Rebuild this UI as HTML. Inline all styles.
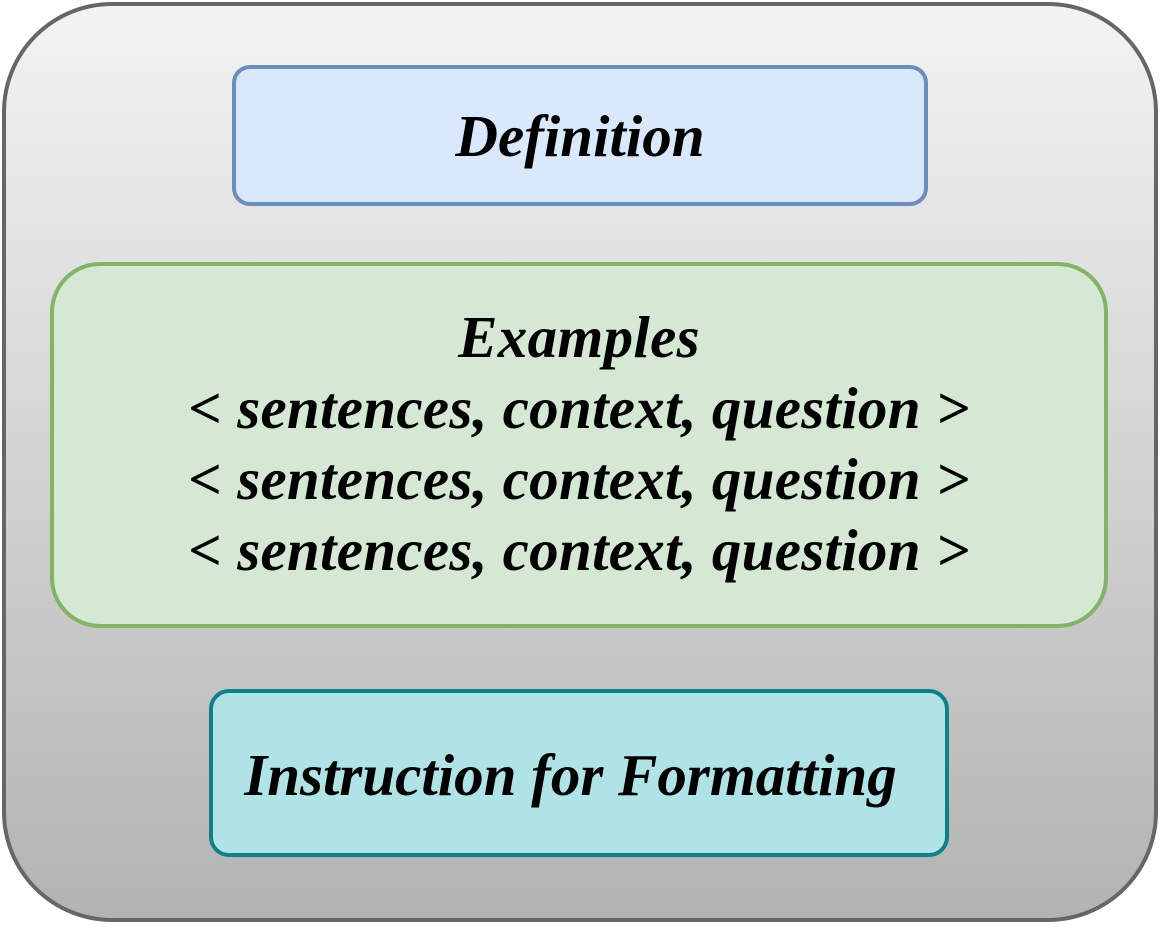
<!DOCTYPE html>
<html><head><style>
body{margin:0;width:1162px;height:938px;background:#fff;position:relative;overflow:hidden;font-family:"Liberation Serif",serif;font-weight:bold;font-style:italic;color:#000}
.b{position:absolute;box-sizing:border-box}
.t{position:absolute;left:0;right:0;text-align:center;white-space:nowrap}
</style></head><body>
<div class="b" style="left:2px;top:2px;width:1156px;height:920px;border:4px solid #666;border-radius:110px;background:linear-gradient(#f3f3f3,#b3b3b3)"></div>
<div class="b" style="left:232px;top:65px;width:696px;height:141px;border:4px solid #6c8ebf;border-radius:18px;background:#dae8fc">
<div class="t" style="top:36px;font-size:59px;line-height:62px">Definition</div></div>
<div class="b" style="left:50px;top:262px;width:1058px;height:366px;border:4px solid #82b366;border-radius:50px;background:#d5e8d4">
<div class="t" style="top:36px;font-size:59px;line-height:71px;letter-spacing:0.3px">Examples<br>&lt; sentences, context, question &gt;<br>&lt; sentences, context, question &gt;<br>&lt; sentences, context, question &gt;</div></div>
<div class="b" style="left:209px;top:689px;width:740px;height:168px;border:4px solid #0e8088;border-radius:20px;background:#b0e3e6">
<div class="t" style="top:51px;left:-17px;font-size:59px;line-height:62px">Instruction for Formatting</div></div>
</body></html>
